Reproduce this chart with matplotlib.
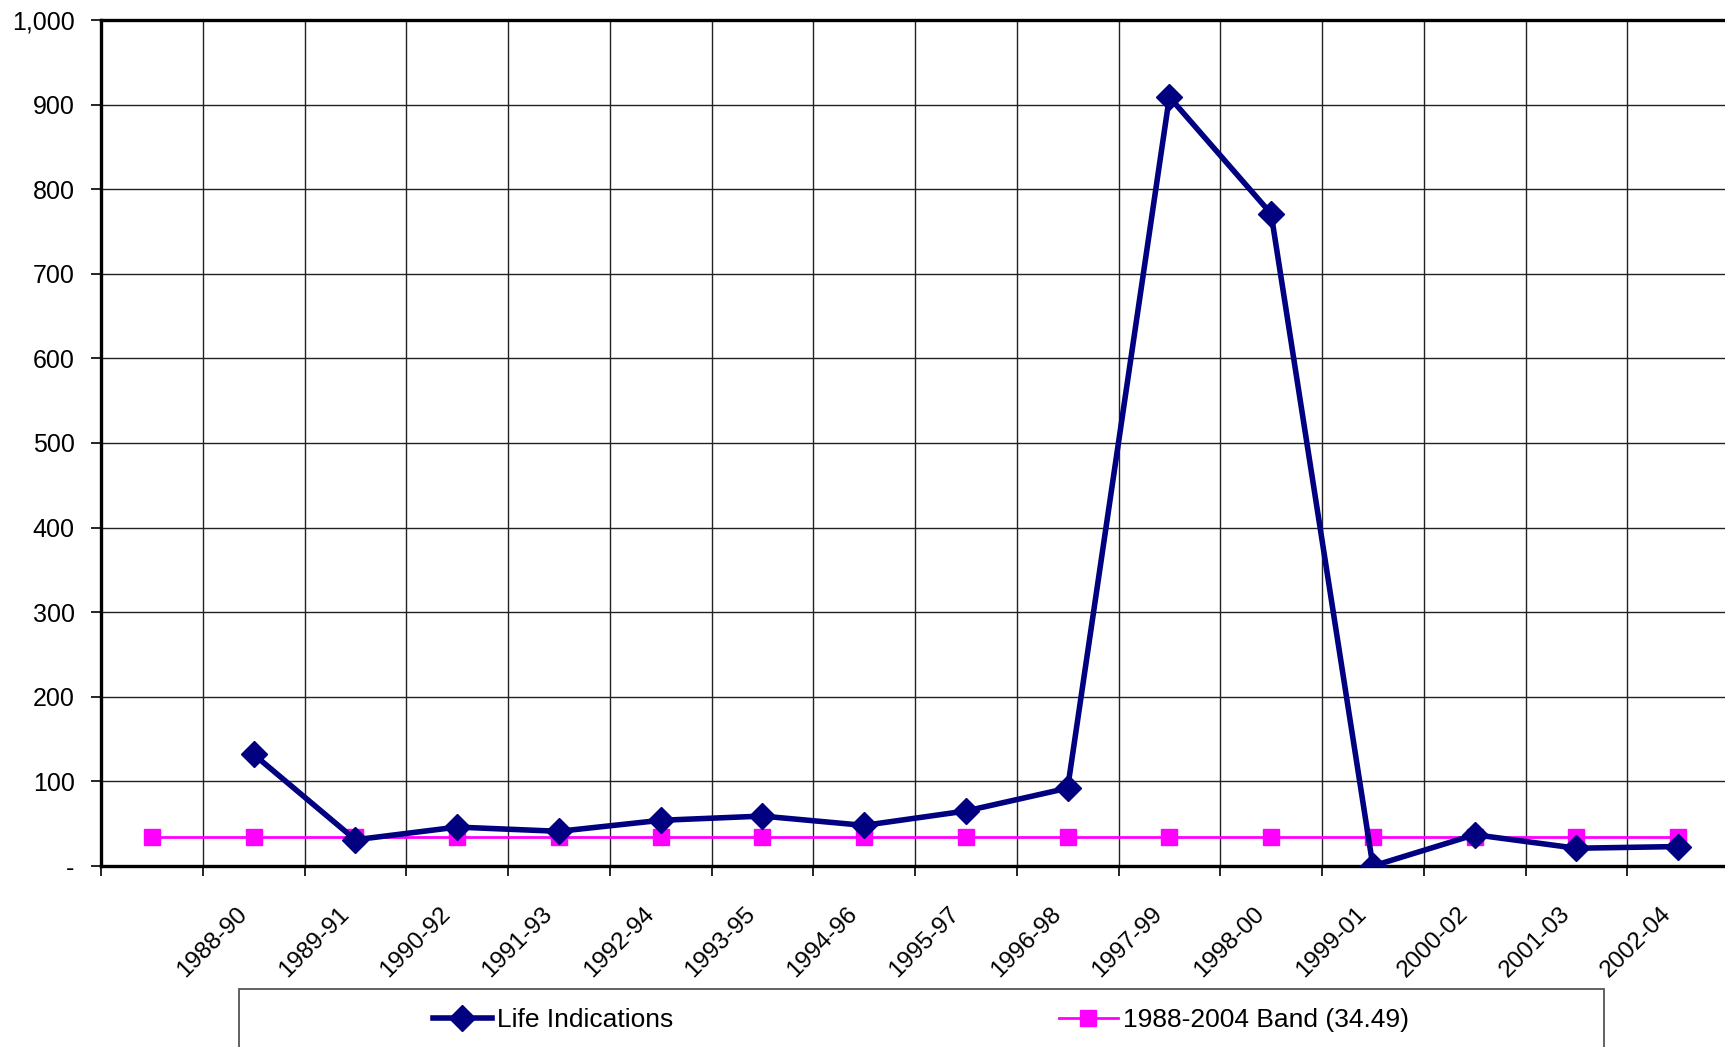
import numpy as np
import matplotlib
matplotlib.use("Agg")
import matplotlib.pyplot as plt
import matplotlib.transforms as mtransforms
from matplotlib.patches import Rectangle
from matplotlib.ticker import FuncFormatter

plt.rcParams["font.family"] = ["Liberation Sans", "DejaVu Sans"]

# Categories (first slot has no label in the original chart)
periods = ["", "1988-90", "1989-91", "1990-92", "1991-93", "1992-94", "1993-95",
           "1994-96", "1995-97", "1996-98", "1997-99", "1998-00", "1999-01",
           "2000-02", "2001-03", "2002-04"]
life_indications = [np.nan, 132, 31, 46, 41, 54, 59, 48, 65, 92, 909, 771, 0, 37, 21, 23]
band_value = 34.49
band = [band_value] * len(periods)

W, H = 1725, 1047
fig = plt.figure(figsize=(W / 100, H / 100), dpi=100)
ax = fig.add_axes([101 / W, 181 / H, 1628 / W, 846 / H])

x = np.arange(len(periods))

# Band line and main series
ax.plot(x, band, color="#FF00FF", lw=2.0, marker="s", markersize=12,
        markeredgecolor="#FF00FF", label=f"1988-2004 Band ({band_value})", zorder=3)
ax.plot(x, life_indications, color="#000080", lw=4.0, marker="D", markersize=13.5,
        markeredgecolor="#000080", label="Life Indications", zorder=4)

ax.set_xlim(-0.5, len(periods) - 0.5)
ax.set_ylim(0, 1000)

# Gridlines between categories, labels at category centres
ax.set_xticks(np.arange(len(periods) + 1) - 0.5)
ax.set_xticklabels([])
ax.set_xticks(x, minor=True)
ax.set_xticklabels(periods, minor=True, rotation=45, ha="right", va="center",
                   rotation_mode="anchor", fontsize=17.5)
ax.tick_params(axis="x", which="minor", length=0, pad=32)
ax.tick_params(axis="x", which="major", length=7, width=1.2, direction="out")
offset = mtransforms.ScaledTranslation(-10 / 100, 0, fig.dpi_scale_trans)
for lab in ax.get_xticklabels(minor=True):
    lab.set_transform(lab.get_transform() + offset)

ax.set_yticks(np.arange(0, 1001, 100))
ax.yaxis.set_major_formatter(FuncFormatter(lambda v, p: "-" if v == 0 else f"{int(v):,}"))
ax.tick_params(axis="y", length=7, width=1.2, direction="out", labelsize=18, pad=12)

ax.grid(True, which="major", color="#222222", lw=1.0)
ax.set_axisbelow(True)
for side in ["left", "bottom", "top"]:
    ax.spines[side].set_linewidth(2.4)
    ax.spines[side].set_color("black")
ax.spines["right"].set_visible(False)

# Legend box at the bottom (frame drawn separately, entries centred inside)
fig.patches.append(Rectangle((239 / W, -0.01), (1604 - 239) / W, 0.01 + (H - 989) / H,
                             transform=fig.transFigure, facecolor="white",
                             edgecolor="#555555", lw=1.3, zorder=0))
handles, labels = ax.get_legend_handles_labels()
leg = fig.legend(handles[::-1], labels[::-1], loc="center",
                 bbox_to_anchor=(921 / W, 1 - 1020 / H), ncol=2, fontsize=19,
                 frameon=False, handlelength=2.25, handletextpad=0.2,
                 columnspacing=14.6)

fig.savefig("out.png", dpi=100)
